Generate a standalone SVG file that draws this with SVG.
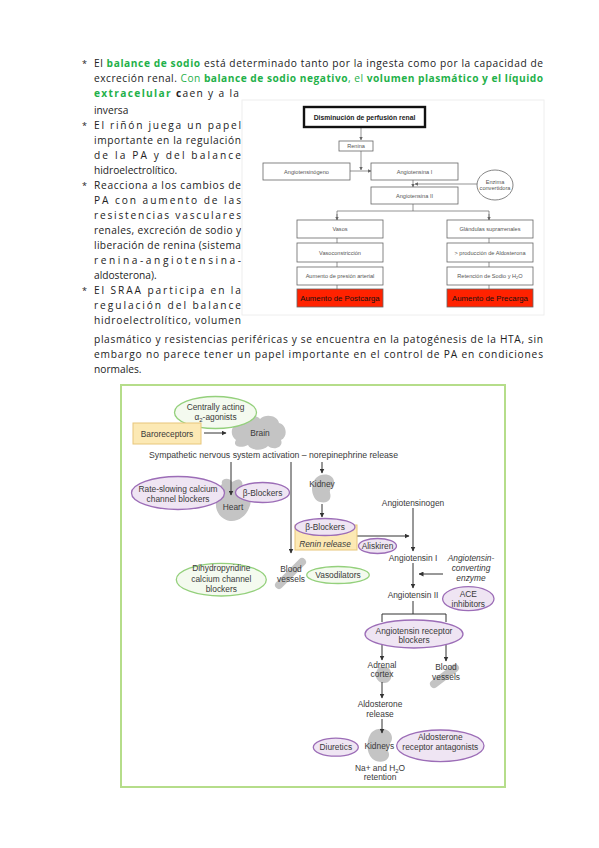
<svg xmlns="http://www.w3.org/2000/svg" width="599" height="848" viewBox="0 0 599 848">
<defs>
<style>
.t{font-family:"Open Sans","Noto Sans",sans-serif;font-size:10.2px;fill:#222}
.g{fill:#1fb14a}
.gb{fill:#1fb14a;font-weight:bold}
.bul{font-family:"Open Sans",sans-serif;font-size:9px;fill:#222}
.fb{fill:#fff;stroke:#666;stroke-width:0.8}
.ft{font-family:"Liberation Sans",Arial,sans-serif;font-size:5.6px;fill:#555;text-anchor:middle}
.fl{stroke:#666;stroke-width:0.7;fill:none}
.lt{font-family:"Liberation Sans",Arial,sans-serif;font-size:8.4px;fill:#3a3a3a;text-anchor:middle}
.it{font-style:italic}
.pe{fill:#efe5f3;stroke:#9c6db7;stroke-width:1.3}
.ge{fill:#f4faef;stroke:#94d07c;stroke-width:1.3}
.yb{fill:#fce9b4;stroke:#e8c67a;stroke-width:1}
.gs{fill:#c4c4c4}
.ar{stroke:#333;stroke-width:1;fill:none}
</style>
<marker id="ah" viewBox="0 0 10 10" refX="9" refY="5" markerWidth="5" markerHeight="5" markerUnits="userSpaceOnUse" orient="auto">
<path d="M0,0 L10,5 L0,10 Z" fill="#333"/>
</marker>
<marker id="fa" viewBox="0 0 10 10" refX="9" refY="5" markerWidth="3.5" markerHeight="3.5" markerUnits="userSpaceOnUse" orient="auto">
<path d="M0,0 L10,5 L0,10 Z" fill="#666"/>
</marker>
</defs>
<rect width="599" height="848" fill="#fff"/>

<g id="text-block">
<text class="bul" x="82" y="67">*</text>
<text class="t" x="94" y="67" textLength="449" lengthAdjust="spacing">El <tspan class="gb">balance de sodio</tspan> está determinado tanto por la ingesta como por la capacidad de</text>
<text class="t" x="94" y="82" textLength="449" lengthAdjust="spacing">excreción renal. <tspan class="g">Con </tspan><tspan class="gb">balance de sodio negativo</tspan><tspan class="g">, el </tspan><tspan class="gb">volumen plasmático y el líquido</tspan></text>
<text class="t" x="94" y="97" textLength="145" lengthAdjust="spacing"><tspan class="gb">extracelular</tspan> <tspan font-weight="bold">c</tspan>aen y a la</text>
<text class="t" x="94" y="114">inversa</text>
<text class="bul" x="82" y="129">*</text>
<text class="t" x="94" y="129" textLength="147" lengthAdjust="spacing">El riñón juega un papel</text>
<text class="t" x="94" y="144" textLength="147" lengthAdjust="spacing">importante en la regulación</text>
<text class="t" x="94" y="159" textLength="147" lengthAdjust="spacing">de la PA y del balance</text>
<text class="t" x="94" y="174">hidroelectrolítico.</text>
<text class="bul" x="82" y="189">*</text>
<text class="t" x="94" y="189" textLength="147" lengthAdjust="spacing">Reacciona a los cambios de</text>
<text class="t" x="94" y="204" textLength="147" lengthAdjust="spacing">PA con aumento de las</text>
<text class="t" x="94" y="219" textLength="147" lengthAdjust="spacing">resistencias vasculares</text>
<text class="t" x="94" y="234" textLength="147" lengthAdjust="spacing">renales, excreción de sodio y</text>
<text class="t" x="94" y="249" textLength="147" lengthAdjust="spacing">liberación de renina (sistema</text>
<text class="t" x="94" y="264" textLength="147" lengthAdjust="spacing">renina-angiotensina-</text>
<text class="t" x="94" y="279">aldosterona).</text>
<text class="bul" x="82" y="294">*</text>
<text class="t" x="94" y="294" textLength="147" lengthAdjust="spacing">El SRAA participa en la</text>
<text class="t" x="94" y="309" textLength="147" lengthAdjust="spacing">regulación del balance</text>
<text class="t" x="94" y="324" textLength="147" lengthAdjust="spacing">hidroelectrolítico, volumen</text>
<text class="t" x="94" y="343" textLength="449" lengthAdjust="spacing">plasmático y resistencias periféricas y se encuentra en la patogénesis de la HTA, sin</text>
<text class="t" x="94" y="358" textLength="449" lengthAdjust="spacing">embargo no parece tener un papel importante en el control de PA en condiciones</text>
<text class="t" x="94" y="373">normales.</text>
</g>

<g id="flowchart">
<rect x="242" y="100" width="302" height="215" fill="none" stroke="#eeeeee" stroke-width="1"/>
<g id="fc-connectors">
<line class="fl" x1="361" y1="128" x2="361" y2="140" marker-end="url(#fa)"/>
<line class="fl" x1="361" y1="151" x2="361" y2="170" marker-end="url(#fa)"/>
<line class="fl" x1="350" y1="171" x2="371" y2="171" marker-end="url(#fa)"/>
<line class="fl" x1="413" y1="180" x2="413" y2="187" marker-end="url(#fa)"/>
<line class="fl" x1="477" y1="184" x2="415" y2="184" marker-end="url(#fa)"/>
<line class="fl" x1="413" y1="204" x2="413" y2="211"/>
<polyline class="fl" points="337,220 337,211 489,211 489,220"/>
<line class="fl" x1="337" y1="214" x2="337" y2="220" marker-end="url(#fa)"/>
<line class="fl" x1="489" y1="214" x2="489" y2="220" marker-end="url(#fa)"/>
<line class="fl" x1="337" y1="238" x2="337" y2="243"/>
<line class="fl" x1="337" y1="262" x2="337" y2="267"/>
<line class="fl" x1="337" y1="285" x2="337" y2="289"/>
<line class="fl" x1="489" y1="238" x2="489" y2="243"/>
<line class="fl" x1="489" y1="262" x2="489" y2="267"/>
<line class="fl" x1="489" y1="285" x2="489" y2="289"/>
</g>
<g id="fc-disminucion"><rect x="304" y="107" width="121" height="20" fill="#fff" stroke="#111" stroke-width="2.4"/><text x="364.5" y="119.5" font-family="Liberation Sans,Arial,sans-serif" font-size="6.8" font-weight="bold" fill="#222" text-anchor="middle">Disminución de perfusión renal</text></g>
<g id="fc-renina"><rect class="fb" x="339" y="141" width="34" height="10"/><text class="ft" x="356" y="148">Renina</text></g>
<g id="fc-angiotensinogeno"><rect class="fb" x="263" y="163" width="87" height="17"/><text class="ft" x="306.5" y="173.5">Angiotensinógeno</text></g>
<g id="fc-angiotensina1"><rect class="fb" x="371" y="163" width="87" height="17"/><text class="ft" x="414.5" y="173.5">Angiotensina I</text></g>
<g id="fc-enzima"><ellipse class="fb" cx="495" cy="185" rx="18" ry="15"/><text class="ft" x="495" y="184" font-size="5">Enzima</text><text class="ft" x="495" y="190" font-size="5">convertidora</text></g>
<g id="fc-angiotensina2"><rect class="fb" x="371" y="187" width="87" height="17"/><text class="ft" x="414.5" y="197.5">Angiotensina II</text></g>
<g id="fc-vasos"><rect class="fb" x="297" y="220" width="86" height="18"/><text class="ft" x="340" y="231">Vasos</text></g>
<g id="fc-vasoconstriccion"><rect class="fb" x="297" y="243" width="86" height="19"/><text class="ft" x="340" y="254.5">Vasoconstricción</text></g>
<g id="fc-presion"><rect class="fb" x="297" y="267" width="86" height="18"/><text class="ft" x="340" y="278">Aumento de presión arterial</text></g>
<g id="fc-postcarga"><rect x="297" y="289" width="86" height="18" fill="#ff2200" stroke="#666" stroke-width="0.8"/><text x="340" y="301" font-family="Liberation Sans,Arial,sans-serif" font-size="7.8" fill="#111" text-anchor="middle">Aumento de Postcarga</text></g>
<g id="fc-glandulas"><rect class="fb" x="447" y="220" width="86" height="18"/><text class="ft" x="490" y="231">Glándulas suprarrenales</text></g>
<g id="fc-aldosterona"><rect class="fb" x="447" y="243" width="86" height="19"/><text class="ft" x="490" y="254.5">&gt; producción de Aldosterona</text></g>
<g id="fc-retencion"><rect class="fb" x="447" y="267" width="86" height="18"/><text class="ft" x="490" y="278">Retención de Sodio y H<tspan font-size="4" dy="1">2</tspan><tspan dy="-1">O</tspan></text></g>
<g id="fc-precarga"><rect x="447" y="289" width="86" height="18" fill="#ff2200" stroke="#666" stroke-width="0.8"/><text x="490" y="301" font-family="Liberation Sans,Arial,sans-serif" font-size="7.8" fill="#111" text-anchor="middle">Aumento de Precarga</text></g>
</g>

<g id="figure">
<rect x="121" y="385" width="384" height="402" fill="#fff" stroke="#b5dd8a" stroke-width="2"/>

<g id="organs">
<path class="gs" d="M236,440 C228,434 232,422 242,423 C244,415 256,414 260,419 C266,413 278,416 279,423 C287,425 288,437 281,440 C284,447 274,451 268,446 C262,452 250,450 248,445 C240,449 232,446 236,440 Z"/>
<path class="gs" d="M222,484 C220,478 230,477 232,482 L236,480 C240,478 244,482 242,487 C250,489 253,500 249,508 C246,516 238,522 230,521 C222,520 215,512 216,503 C213,498 216,490 222,484 Z"/>
<path class="gs" d="M316,478 C322,472 334,474 334,482 C334,487 329,488 330,493 C332,499 328,504 320,502 C312,500 309,485 316,478 Z"/>
<line x1="279" y1="585" x2="302" y2="562" stroke="#c4c4c4" stroke-width="8" stroke-linecap="round"/>
<path class="gs" d="M377,670 C380,664 390,666 391,672 C393,678 389,684 383,683 C377,682 374,676 377,670 Z"/>
<line x1="434" y1="684" x2="455" y2="668" stroke="#c4c4c4" stroke-width="8" stroke-linecap="round"/>
<path class="gs" d="M372,732 C378,726 392,728 392,738 C392,744 386,745 388,751 C392,758 384,764 376,761 C366,757 365,740 372,732 Z"/>
</g>

<g id="connectors">
<line class="ar" x1="204" y1="433" x2="226" y2="433" marker-end="url(#ah)"/>
<line class="ar" x1="231" y1="462" x2="231" y2="495" marker-end="url(#ah)"/>
<line class="ar" x1="291" y1="462" x2="291" y2="553" marker-end="url(#ah)"/>
<line class="ar" x1="322" y1="462" x2="322" y2="473" marker-end="url(#ah)"/>
<line class="ar" x1="322" y1="504" x2="322" y2="517" marker-end="url(#ah)"/>
<line class="ar" x1="357" y1="536" x2="409" y2="536" marker-end="url(#ah)"/>
<line class="ar" x1="413" y1="508" x2="413" y2="551" marker-end="url(#ah)"/>
<line class="ar" x1="413" y1="563" x2="413" y2="588" marker-end="url(#ah)"/>
<line class="ar" x1="443" y1="574" x2="419" y2="574" marker-end="url(#ah)"/>
<line class="ar" x1="413" y1="601" x2="413" y2="614"/>
<polyline class="ar" points="382,622 382,614 446,614 446,622"/>
<line class="ar" x1="382" y1="640" x2="382" y2="660" marker-end="url(#ah)"/>
<line class="ar" x1="446" y1="640" x2="446" y2="661" marker-end="url(#ah)"/>
<line class="ar" x1="382" y1="682" x2="382" y2="698" marker-end="url(#ah)"/>
<line class="ar" x1="382" y1="719" x2="382" y2="733" marker-end="url(#ah)"/>
</g>

<g id="n-alpha2"><ellipse class="ge" cx="215.5" cy="412.5" rx="41" ry="16"/><text class="lt" x="215.5" y="409.5">Centrally acting</text><text class="lt" x="215.5" y="419.5">α<tspan font-size="6" dy="2">2</tspan><tspan dy="-2">-agonists</tspan></text></g>
<g id="n-baroreceptors"><rect class="yb" x="133" y="423" width="68" height="21"/><text class="lt" x="167" y="437">Baroreceptors</text></g>
<g id="n-brain"><text class="lt" x="260" y="436">Brain</text></g>
<g id="n-sympathetic"><text class="lt" x="273.5" y="458" textLength="249" lengthAdjust="spacingAndGlyphs">Sympathetic nervous system activation – norepinephrine release</text></g>
<g id="n-kidney"><text class="lt" x="322" y="487">Kidney</text></g>
<g id="n-rateslowing"><ellipse class="pe" cx="178" cy="493" rx="46.5" ry="16.5"/><text class="lt" x="178" y="491.5">Rate-slowing calcium</text><text class="lt" x="178" y="501.5">channel blockers</text></g>
<g id="n-heart"><text class="lt" x="233" y="510">Heart</text></g>
<g id="n-bblock1"><ellipse class="pe" cx="262.5" cy="492.5" rx="27" ry="10"/><text class="lt" x="262.5" y="495.5">β-Blockers</text></g>
<g id="n-renin"><rect class="yb" x="295" y="525" width="62" height="25"/><ellipse class="pe" cx="325" cy="527" rx="30" ry="8.5"/><text class="lt" x="325" y="530">β-Blockers</text><text class="lt it" x="325" y="547">Renin release</text></g>
<g id="n-aliskiren"><ellipse class="pe" cx="377.5" cy="546" rx="19" ry="7.5"/><text class="lt" x="377.5" y="549">Aliskiren</text></g>
<g id="n-angiotensinogen"><text class="lt" x="413" y="505.5">Angiotensinogen</text></g>
<g id="n-angiotensin1"><text class="lt" x="413" y="561.3">Angiotensin I</text></g>
<g id="n-ace-enzyme"><text class="lt it" x="471" y="561.3">Angiotensin-</text><text class="lt it" x="471" y="571.3">converting</text><text class="lt it" x="471" y="580.7">enzyme</text></g>
<g id="n-angiotensin2"><text class="lt" x="413" y="598">Angiotensin II</text></g>
<g id="n-aceinhib"><ellipse class="pe" cx="468.3" cy="598.7" rx="25.7" ry="12"/><text class="lt" x="468.3" y="597.3">ACE</text><text class="lt" x="468.3" y="607">inhibitors</text></g>
<g id="n-dhp"><ellipse class="ge" cx="221.3" cy="579.7" rx="45" ry="16.3"/><text class="lt" x="221.3" y="571.3">Dihydropyridine</text><text class="lt" x="221.3" y="582.3">calcium channel</text><text class="lt" x="221.3" y="592.3">blockers</text></g>
<g id="n-bloodvessels1"><text class="lt" x="291" y="572.3">Blood</text><text class="lt" x="291" y="582.3">vessels</text></g>
<g id="n-vasodilators"><ellipse class="ge" cx="338" cy="575" rx="31.3" ry="8.5"/><text class="lt" x="338" y="578">Vasodilators</text></g>
<g id="n-arb"><ellipse class="pe" cx="414" cy="634" rx="49" ry="14"/><text class="lt" x="414" y="633.5">Angiotensin receptor</text><text class="lt" x="414" y="643">blockers</text></g>
<g id="n-adrenal"><text class="lt" x="382" y="668">Adrenal</text><text class="lt" x="382" y="677.3">cortex</text></g>
<g id="n-bloodvessels2"><text class="lt" x="446" y="670.3">Blood</text><text class="lt" x="446" y="679.7">vessels</text></g>
<g id="n-aldosterone"><text class="lt" x="380" y="707.3">Aldosterone</text><text class="lt" x="380" y="717">release</text></g>
<g id="n-diuretics"><ellipse class="pe" cx="335.8" cy="747.2" rx="22.5" ry="9"/><text class="lt" x="335.8" y="750">Diuretics</text></g>
<g id="n-kidneys"><text class="lt" x="379.3" y="749">Kidneys</text></g>
<g id="n-ara"><ellipse class="pe" cx="440.3" cy="745.8" rx="43.7" ry="15.8"/><text class="lt" x="440.3" y="740.3">Aldosterone</text><text class="lt" x="440.3" y="750">receptor antagonists</text></g>
<g id="n-retention"><text class="lt" x="380" y="770.7">Na+ and H<tspan font-size="6" dy="2">2</tspan><tspan dy="-2">O</tspan></text><text class="lt" x="380" y="779.7">retention</text></g>
</g>
</svg>
